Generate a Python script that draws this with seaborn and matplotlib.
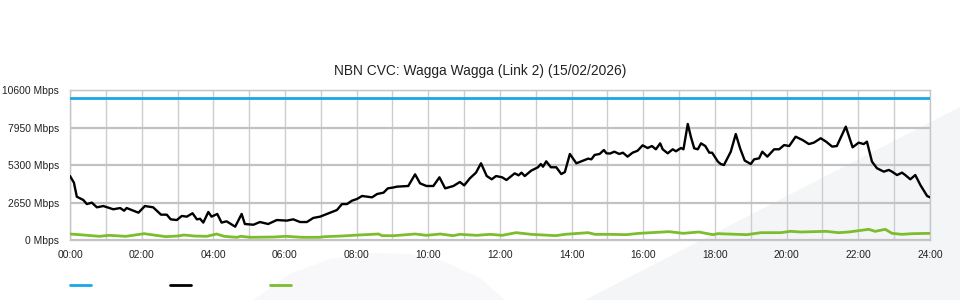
import matplotlib
matplotlib.use("Agg")
import matplotlib.pyplot as plt
from matplotlib.lines import Line2D
from matplotlib.patches import Polygon
import seaborn as sns
import pandas as pd

# ---------------- data ----------------
title = "NBN CVC: Wagga Wagga (Link 2) (15/02/2026)"

capacity_hours = [0.0, 24.0]
capacity_mbps = [10000, 10000]

traffic_hours = [
    0.00, 0.11, 0.19, 0.37, 0.47, 0.61, 0.75, 0.93, 1.21, 1.40, 1.51, 1.58, 1.91, 2.09,
    2.32, 2.54, 2.70, 2.81, 2.98, 3.12, 3.26, 3.42, 3.54, 3.63, 3.72, 3.86, 3.95, 4.11,
    4.23, 4.37, 4.61, 4.79, 4.88, 5.12, 5.30, 5.53, 5.77, 6.05, 6.23, 6.42, 6.61, 6.79,
    6.98, 7.26, 7.45, 7.59, 7.73, 7.87, 8.01, 8.15, 8.43, 8.57, 8.75, 8.87, 9.04, 9.12,
    9.44, 9.63, 9.77, 9.95, 10.14, 10.31, 10.47, 10.70, 10.88, 11.00, 11.16, 11.33, 11.47,
    11.63, 11.77, 11.89, 12.06, 12.18, 12.41, 12.52, 12.60, 12.69, 12.87, 13.06, 13.14,
    13.20, 13.29, 13.42, 13.57, 13.71, 13.81, 13.95, 14.13, 14.36, 14.46, 14.55, 14.64,
    14.78, 14.90, 14.97, 15.07, 15.19, 15.33, 15.43, 15.56, 15.70, 15.84, 15.98, 16.12,
    16.24, 16.35, 16.47, 16.54, 16.68, 16.82, 16.91, 17.05, 17.12, 17.24, 17.33, 17.42,
    17.52, 17.61, 17.73, 17.84, 17.92, 18.08, 18.16, 18.25, 18.44, 18.58, 18.70, 18.83,
    19.00, 19.09, 19.23, 19.32, 19.46, 19.65, 19.79, 19.93, 20.07, 20.25, 20.44, 20.62,
    20.76, 20.95, 21.10, 21.27, 21.40, 21.65, 21.84, 22.01, 22.15, 22.24, 22.38, 22.52,
    22.71, 22.85, 22.94, 23.08, 23.22, 23.31, 23.45, 23.59, 23.73, 23.92, 24.00,
]
traffic_mbps = [
    4520, 4050, 3060, 2830, 2540, 2640, 2310, 2400, 2170, 2260, 2070, 2260, 1930, 2400,
    2310, 1790, 1790, 1460, 1410, 1700, 1650, 1890, 1460, 1500, 1230, 1980, 1650, 1840,
    1230, 1320, 940, 1840, 1130, 1080, 1270, 1130, 1410, 1370, 1460, 1270, 1270, 1560,
    1650, 1930, 2120, 2540, 2540, 2780, 2900, 3110, 3015, 3250, 3345, 3650, 3720, 3770,
    3816, 4640, 4000, 3816, 3816, 4430, 3650, 3816, 4100, 3860, 4360, 4760, 5420,
    4520, 4290, 4520, 4430, 4240, 4710, 4570, 4760, 4520, 4900, 5140, 5370,
    5180, 5560, 5140, 5140, 4660, 4800, 6080, 5420, 5650, 5750, 5700, 6010,
    6080, 6360, 6125, 6110, 6240, 6080, 6170, 5890, 6170, 6310, 6690, 6500,
    6640, 6410, 6830, 6410, 6125, 6410, 6270, 6500, 6410, 8200, 7260, 6480,
    6410, 6830, 6640, 6170, 6170, 5540, 5370, 5300, 6240, 7490, 6480, 5610,
    5370, 5700, 5770, 6240, 5890, 6410, 6410, 6710, 6640, 7300, 7070, 6780,
    6880, 7190, 6950, 6600, 6640, 8010, 6550, 6880, 6780, 6950, 5540, 5070,
    4830, 4950, 4830, 4590, 4760, 4590, 4290, 4590, 3890, 3110, 3015,
]

upload_hours = [
    0.00, 0.26, 0.82, 1.09, 1.56, 2.07, 2.40, 2.68, 3.01, 3.18, 3.46, 3.82, 4.09, 4.30,
    4.66, 4.76, 5.04, 5.69, 6.03, 6.47, 6.94, 7.12, 7.59, 8.06, 8.61, 8.71, 9.04, 9.63,
    9.95, 10.33, 10.69, 10.88, 11.35, 11.72, 12.06, 12.45, 12.87, 13.56, 13.81, 14.46,
    14.65, 15.07, 15.52, 15.88, 16.72, 17.11, 17.55, 17.94, 18.08, 18.89, 19.28, 19.83,
    20.11, 20.39, 21.10, 21.45, 21.73, 22.01, 22.29, 22.47, 22.75, 22.94, 23.22, 23.50,
    24.00,
]
upload_mbps = [
    424, 377, 260, 330, 260, 447, 330, 236, 283, 353, 283, 260, 424, 260,
    190, 260, 190, 212, 260, 190, 190, 236, 283, 353, 424, 306, 306, 424,
    330, 424, 306, 400, 330, 400, 330, 518, 400, 306, 400, 518,
    400, 400, 377, 470, 590, 470, 565, 377, 447, 377, 518, 518,
    612, 565, 612, 518, 565, 660, 754, 612, 754, 470, 400, 447,
    470,
]

y_ticks = [0, 2650, 5300, 7950, 10600]
y_labels = [f"{v} Mbps" for v in y_ticks]
x_ticks = list(range(0, 25, 2))
x_labels = [f"{h:02d}:00" for h in x_ticks]

# ---------------- style ----------------
sns.set_theme(style="white")
plt.rcParams["font.family"] = ["Liberation Sans", "DejaVu Sans"]

BLUE = "#1ba6e6"
BLACK = "#000000"
GREEN = "#7cbd2c"

fig = plt.figure(figsize=(9.6, 3.0), dpi=100)
W, H = 960, 300

# faint watermark shapes behind the chart (figure pixel coords -> fraction)
def fp(pts):
    return [(x / W, 1 - y / H) for x, y in pts]

fig.add_artist(Polygon(fp([(585, 300), (960, 107), (960, 300)]),
                       closed=True, facecolor="#f4f5f7", edgecolor="none",
                       transform=fig.transFigure, zorder=0))
fig.add_artist(Polygon(fp([(253, 300), (290, 274), (330, 259), (370, 253), (410, 254),
                           (443, 261), (480, 278), (505, 300)]),
                       closed=True, facecolor="#f8f8fa", edgecolor="none",
                       transform=fig.transFigure, zorder=0))

ax = fig.add_axes([70 / W, 1 - 240 / H, 860 / W, 150 / H])
ax.patch.set_alpha(0)
ax.set_zorder(1)

cap_df = pd.DataFrame({"hour": capacity_hours, "mbps": capacity_mbps})
tr_df = pd.DataFrame({"hour": traffic_hours, "mbps": traffic_mbps})
up_df = pd.DataFrame({"hour": upload_hours, "mbps": upload_mbps})

sns.lineplot(data=cap_df, x="hour", y="mbps", ax=ax, color=BLUE, linewidth=2.0,
             estimator=None, sort=False, zorder=4)
sns.lineplot(data=up_df, x="hour", y="mbps", ax=ax, color=GREEN, linewidth=2.0,
             estimator=None, sort=False, zorder=4)
sns.lineplot(data=tr_df, x="hour", y="mbps", ax=ax, color=BLACK, linewidth=1.7,
             estimator=None, sort=False, zorder=5)

ax.set_xlim(0, 24)
ax.set_ylim(0, 10600)
ax.set_xticks(x_ticks)
ax.set_xticklabels(x_labels)
ax.set_xticks(range(0, 25), minor=True)
ax.set_yticks(y_ticks)
ax.set_yticklabels(y_labels)
ax.set_xlabel("")
ax.set_ylabel("")

ax.grid(False)
ax.grid(axis="y", which="major", color="#c2c2c2", linewidth=1.6, zorder=1)
ax.grid(axis="x", which="both", color="#cdcdcd", linewidth=1.0, zorder=1)
ax.set_axisbelow(True)

for s in ax.spines.values():
    s.set_color("#c6c6c6")
    s.set_linewidth(1.0)

ax.tick_params(axis="both", which="both", length=0, labelsize=7.4, colors="#222222")
ax.tick_params(axis="y", pad=8)
ax.tick_params(axis="x", pad=7)

fig.text(0.5, 1 - 71 / H, title, ha="center", va="center", fontsize=9.9, color="#222222")

# legend swatches (no labels in the reference)
for x0, col in [(70, BLUE), (170, BLACK), (270, GREEN)]:
    fig.add_artist(Line2D([x0 / W, (x0 + 21) / W], [1 - 285 / H, 1 - 285 / H],
                          color=col, linewidth=2.0, transform=fig.transFigure))

fig.savefig("out.png", dpi=100)
